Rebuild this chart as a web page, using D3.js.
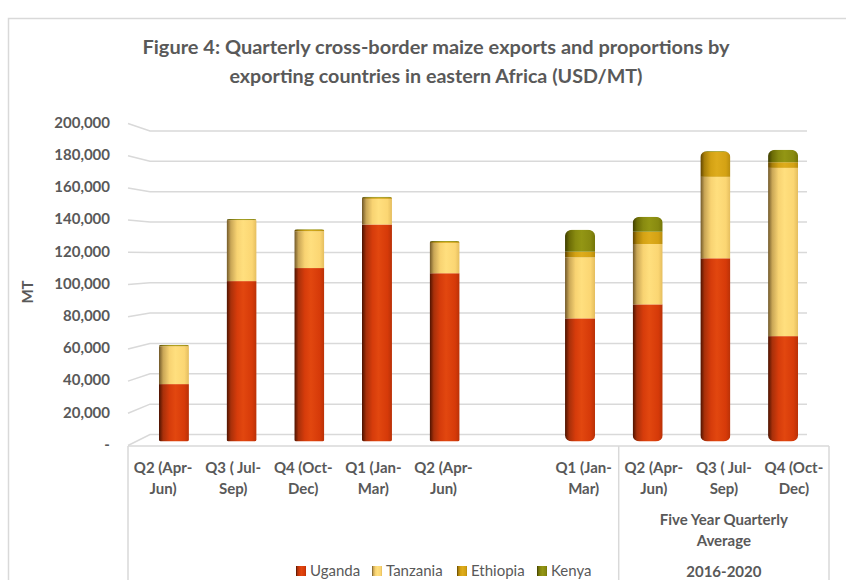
<!DOCTYPE html>
<html>
<head>
<meta charset="utf-8">
<script src="https://cdn.jsdelivr.net/npm/d3@7"></script>
<style>
  html, body { margin: 0; padding: 0; background: #ffffff; }
  svg { display: block; }
</style>
</head>
<body>
<svg id="chart" width="846" height="580"></svg>
<script>
// ---------------- data ----------------
const titleLines = [
  "Figure 4: Quarterly cross-border maize exports and proportions by",
  "exporting countries in eastern Africa (USD/MT)"
];
const categories = ["Q2 (Apr-Jun)", "Q3 ( Jul-Sep)", "Q4 (Oct-Dec)", "Q1 (Jan-Mar)", "Q2 (Apr-Jun)", "",
                    "Q1 (Jan-Mar)", "Q2 (Apr-Jun)", "Q3 ( Jul-Sep)", "Q4 (Oct-Dec)"];
const seriesNames = ["Uganda", "Tanzania", "Ethiopia", "Kenya"];
const uganda   = [36500, 102000, 110300, 138000, 107000, 0, 78300, 87200, 116500, 67000];
const tanzania = [24000,  38800,  23400,  16300,  19300, 0, 38800, 38400,  51800, 107000];
const ethiopia = [  800,    500,   1000,   1000,   1000, 0,  3600,  7800,  16000,   3600];
const kenya    = [  200,    200,    200,    300,    200, 0, 14000,  9500,    500,   7900];
const yTicks = [0, 20000, 40000, 60000, 80000, 100000, 120000, 140000, 160000, 180000, 200000];
const groupLabel = ["Five Year Quarterly", "Average", "2016-2020"];
const groupStartIndex = 7;   // first category of the five-year average group
const yTitle = "MT";

// ---------------- setup ----------------
const svg = d3.select("#chart");
const W = 846, H = 580;
const textColor = "#595959";
const gridColor = "#d9d9d9";
const fontFam = "Lato, 'Open Sans', sans-serif";

// chart area border
svg.append("rect").attr("x", 8.5).attr("y", 18.5).attr("width", 900).attr("height", 700)
  .attr("fill", "none").attr("stroke", gridColor).attr("stroke-width", 1.5);

// title
svg.append("g").selectAll("text").data(titleLines).join("text")
  .attr("x", 436).attr("y", (d, i) => 54 + i * 29)
  .attr("text-anchor", "middle")
  .attr("font-family", fontFam).attr("font-weight", "bold").attr("font-size", 19)
  .attr("fill", textColor)
  .attr("textLength", (d, i) => i === 0 ? 587 : 413)
  .attr("lengthAdjust", "spacingAndGlyphs")
  .text(d => d);

// scales
const yFront = d3.scaleLinear().domain([0, 200000]).range([445.5, 123.5]); // front edge / labels
const yBack  = d3.scaleLinear().domain([0, 200000]).range([434.5, 131]);   // back wall gridlines
const yBar   = d3.scaleLinear().domain([0, 200000]).range([441.5, 127]);   // bars (mid depth)
const xFront = d3.scaleBand().domain(d3.range(categories.length)).range([128, 829]).padding(0);
const xBar   = d3.scaleBand().domain(d3.range(categories.length)).range([140, 817]).paddingInner(0.557).paddingOuter(0.28);

const axisLeftX = 128, wallLeftX = 150, wallRightX = 807;

// gridlines (3D perspective)
const grid = svg.append("g").attr("stroke", gridColor).attr("stroke-width", 1.5).attr("fill", "none");
grid.selectAll("path").data(yTicks).join("path")
  .attr("d", v => `M${axisLeftX},${yFront(v)} L${wallLeftX},${yBack(v)} L${wallRightX},${yBack(v)}`);

// y tick labels
svg.append("g").selectAll("text").data(yTicks).join("text")
  .attr("x", 110).attr("y", v => yFront(v) - 1)
  .attr("dy", "0.35em")
  .attr("text-anchor", v => v === 0 ? "middle" : "end")
  .attr("dx", v => v === 0 ? -3 : 0)
  .attr("font-family", fontFam).attr("font-weight", "bold").attr("font-size", 15)
  .attr("fill", textColor)
  .text(v => v === 0 ? "-" : d3.format(",")(v));

// y title
svg.append("text")
  .attr("transform", "translate(33,292) rotate(-90)")
  .attr("text-anchor", "middle")
  .attr("font-family", fontFam).attr("font-weight", "bold").attr("font-size", 15)
  .attr("fill", textColor).text(yTitle);

// category axis box
const axisG = svg.append("g").attr("stroke", gridColor).attr("stroke-width", 1.5).attr("fill", "none");
axisG.append("line").attr("x1", xFront.range()[0]).attr("x2", xFront.range()[1]).attr("y1", 446).attr("y2", 446);
[xFront.range()[0], xFront(groupStartIndex), xFront.range()[1]].forEach(x => {
  axisG.append("line").attr("x1", x).attr("x2", x).attr("y1", 446).attr("y2", H);
});

// category labels (two lines)
const catG = svg.append("g")
  .attr("font-family", fontFam).attr("font-weight", "bold").attr("font-size", 15)
  .attr("fill", textColor).attr("text-anchor", "middle");
categories.forEach((c, i) => {
  if (!c) return;
  const k = c.indexOf("-") + 1;
  const lines = [c.slice(0, k), c.slice(k)];
  const t = catG.append("text").attr("x", xFront(i) + xFront.bandwidth() / 2);
  lines.forEach((ln, j) => {
    t.append("tspan").attr("x", xFront(i) + xFront.bandwidth() / 2).attr("y", 473 + j * 21).text(ln);
  });
});

// group label
const gx = (xFront(groupStartIndex) + xFront.range()[1]) / 2;
svg.append("g").selectAll("text").data(groupLabel).join("text")
  .attr("x", gx).attr("y", (d, i) => [525, 546, 577][i])
  .attr("text-anchor", "middle")
  .attr("font-family", fontFam).attr("font-weight", "bold").attr("font-size", 15)
  .attr("fill", textColor).text(d => d);

// gradients (cylinder shading)
const shades = {
  Uganda:   [["0%", "#4a1200"], ["14%", "#a8300a"], ["35%", "#d63c0b"], ["55%", "#e2470f"], ["85%", "#d63a09"], ["100%", "#b93107"]],
  Tanzania: [["0%", "#6e5628"], ["14%", "#c9a656"], ["35%", "#f8d372"], ["55%", "#ffdf7e"], ["85%", "#fbd673"], ["100%", "#e4bd5e"]],
  Ethiopia: [["0%", "#5e4200"], ["14%", "#a87f0a"], ["35%", "#d4a214"], ["55%", "#deac1c"], ["85%", "#d4a214"], ["100%", "#b88c0e"]],
  Kenya:    [["0%", "#3c3c00"], ["14%", "#6b6b06"], ["35%", "#888a10"], ["55%", "#939614"], ["85%", "#888a10"], ["100%", "#747508"]]
};
const defs = svg.append("defs");
seriesNames.forEach(n => {
  const g = defs.append("linearGradient").attr("id", "grad-" + n)
    .attr("x1", "0%").attr("x2", "100%").attr("y1", "0%").attr("y2", "0%");
  shades[n].forEach(s => g.append("stop").attr("offset", s[0]).attr("stop-color", s[1]));
});

// stacked bars
const table = categories.map((c, i) => ({
  i, Uganda: uganda[i], Tanzania: tanzania[i], Ethiopia: ethiopia[i], Kenya: kenya[i]
}));
const stacked = d3.stack().keys(seriesNames)(table);

const barsG = svg.append("g");
table.forEach((row, i) => {
  const total = seriesNames.reduce((s, k) => s + row[k], 0);
  if (!total) return;
  const x0 = xBar(i), bw = xBar.bandwidth();
  const clipId = "clip-" + i;
  const roundTop = total > 130000 && (row.Kenya > 5000 || row.Ethiopia > 10000);
  defs.append("clipPath").attr("id", clipId).append("rect")
    .attr("x", x0).attr("width", bw)
    .attr("y", yBar(total)).attr("height", yBar(0) - yBar(total))
    .attr("rx", roundTop ? 7 : 3)
    .attr("ry", roundTop ? 6 : 2);
  const g = barsG.append("g").attr("clip-path", `url(#${clipId})`);
  stacked.forEach(layer => {
    const d = layer[i];
    if (d[1] - d[0] <= 0) return;
    g.append("rect")
      .attr("x", x0).attr("width", bw)
      .attr("y", yBar(d[1])).attr("height", Math.max(0.8, yBar(d[0]) - yBar(d[1])))
      .attr("fill", `url(#grad-${layer.key})`);
  });
});

// legend
const legendItems = [
  { name: "Uganda", x: 296 },
  { name: "Tanzania", x: 372 },
  { name: "Ethiopia", x: 457 },
  { name: "Kenya", x: 537 }
];
const lg = svg.append("g");
legendItems.forEach(it => {
  lg.append("rect").attr("x", it.x).attr("y", 566).attr("width", 10).attr("height", 10)
    .attr("fill", `url(#grad-${it.name})`);
  lg.append("text").attr("x", it.x + 14).attr("y", 576)
    .attr("font-family", fontFam).attr("font-size", 15).attr("fill", textColor)
    .text(it.name);
});
</script>
</body>
</html>
